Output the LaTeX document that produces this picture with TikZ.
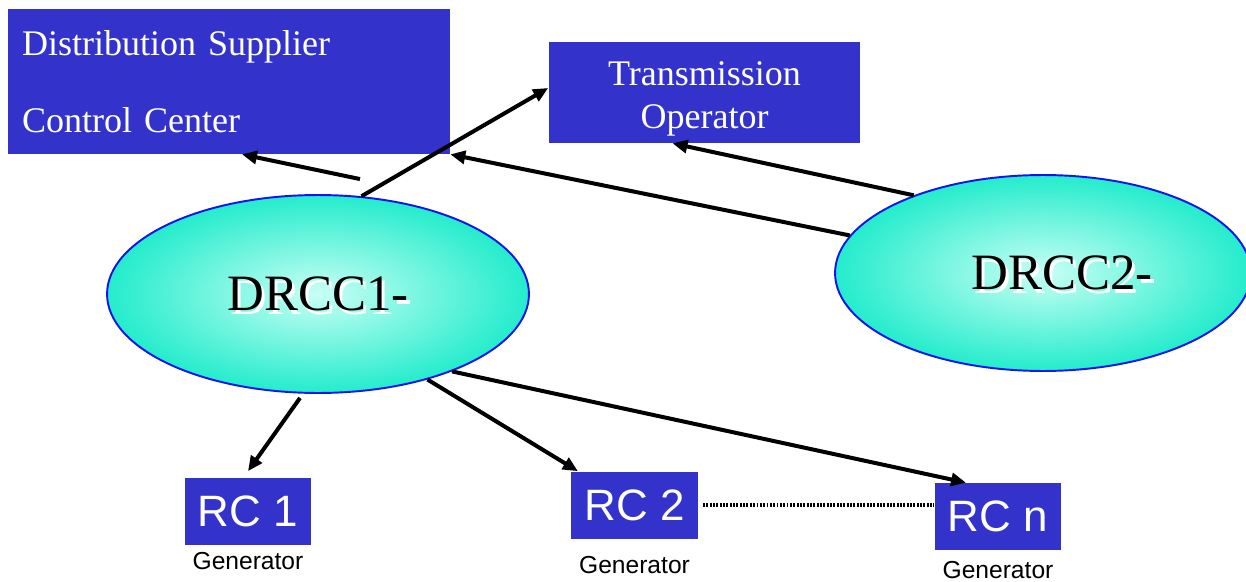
\documentclass[tikz,border=0pt]{standalone}
\usepackage{fontspec}
\setmainfont{Liberation Serif}
\setsansfont{Liberation Sans}
\usetikzlibrary{positioning,shapes.geometric,arrows.meta}
\definecolor{boxblue}{RGB}{51,51,204}
\definecolor{drccin}{RGB}{200,255,244}
\definecolor{drccout}{RGB}{36,236,204}
\definecolor{rimblue}{RGB}{20,20,235}
\newcommand{\shtext}[1]{\makebox[0pt][l]{\hspace{0.07cm}\raisebox{-0.07cm}[0pt][0pt]{\textcolor{white}{#1}}}#1}
\tikzset{
  box/.style={fill=boxblue, text=white, inner sep=0pt},
  rcbox/.style={box, minimum width=2.53cm, minimum height=1.34cm, font=\sffamily\fontsize{25}{25}\selectfont},
  drcc/.style={ellipse, draw=rimblue, line width=1.1pt, inner color=drccin, outer color=drccout, font=\fontsize{29}{29}\selectfont},
  gen/.style={inner sep=0pt, font=\sffamily\fontsize{14}{14}\selectfont},
  arr/.style={-{Triangle[length=0.3cm,width=0.26cm]}, line width=0.08cm},
  dotline/.style={line width=2.2pt, dash pattern=on 1.1pt off 0.8pt}
}
\begin{document}
\begin{tikzpicture}[x=0.02cm,y=-0.02cm]
\useasboundingbox (0,0) rectangle (1246,581);
\node[box, minimum width=8.84cm, minimum height=2.9cm, text width=8.28cm, align=left, font=\fontsize{20.5}{44}\selectfont] (dscc) at (229,81.5) {Distribution Supplier\\Control Center};
\node[box, minimum width=6.24cm, minimum height=2.02cm, align=center, font=\fontsize{20.5}{24.5}\selectfont] (trans) at (704.5,92.5) {\rule{0pt}{0.72cm}Transmission\\Operator};

\node[drcc, minimum width=8.44cm, minimum height=3.96cm] (dr1) at (318,294) {\shtext{DRCC1-}};
\node[drcc, minimum width=8.32cm, minimum height=3.92cm] (dr2) at (1043,273) {\hspace*{0.76cm}\shtext{DRCC2-}};

\node[rcbox] (rc1) at (248,511) {RC 1};
\node[rcbox] (rc2) at (634.5,505) {RC 2};
\node[rcbox] (rcn) at (998,516.5) {RC n};
\node[gen, below=0.14cm of rc1] (g1) {Generator};
\node[gen, below=0.34cm of rc2] (g2) {Generator};
\node[gen, below=0.22cm of rcn] (gn) {Generator};

\draw[arr] ([shift={(0.84cm,0.3cm)}]dr1.north) -- ([xshift=0.26cm]dscc.south);
\draw[arr] (dr1.66) -- ([yshift=0.09cm]trans.west);
\draw[arr] (dr2.169) -- (dscc.south east);
\draw[arr] (dr2.149) -- ([xshift=-0.64cm]trans.south);
\draw[arr] ([shift={(-0.36cm,-0.08cm)}]dr1.south) -- ([yshift=0.12cm]rc1.north);
\draw[arr] (dr1.-38) -- ([xshift=0.14cm]rc2.north west);
\draw[arr] (dr1.-30) -- ([xshift=-0.64cm]rcn.north);
\draw[dotline] ([xshift=0.1cm]rc2.east) -- (rc2.east -| rcn.west);
\end{tikzpicture}
\end{document}
